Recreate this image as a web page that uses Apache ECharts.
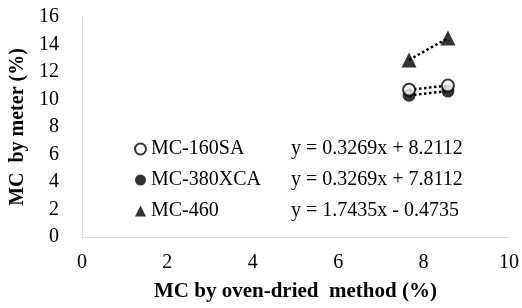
<!DOCTYPE html>
<html>
<head>
<meta charset="utf-8">
<script src="https://cdn.jsdelivr.net/npm/echarts@6/dist/echarts.min.js"></script>
<style>
  html, body { margin: 0; padding: 0; background: #fff; }
  #chart { width: 522px; height: 308px; }
</style>
</head>
<body>
<div id="chart"></div>
<script>
  // oven-dried MC (x) for the two samples
  const ovenDried = [7.66, 8.57];
  // meter readings (y)
  const mc160sa = [10.71, 11.01];
  const mc380xca = [10.31, 10.61];
  const mc460 = [12.88, 14.47];
  const names = ['MC-160SA', 'MC-380XCA', 'MC-460'];
  const equations = ['y = 0.3269x + 8.2112', 'y = 0.3269x + 7.8112', 'y = 1.7435x - 0.4735'];

  const pairs = (ys) => ovenDried.map((x, i) => [x, ys[i]]);
  const font = 'Liberation Serif';

  const myChart = echarts.init(document.getElementById('chart'));

  const option = {
    animation: false,
    textStyle: { fontFamily: font },
    grid: { left: 78, right: 9, top: 17, bottom: 71 },
    legend: {
      data: names,
      orient: 'vertical',
      left: 129,
      top: 134,
      itemWidth: 11,
      itemHeight: 11,
      itemGap: 11,
      selectedMode: false,
      formatter(name) {
        // 名字和公式两列对齐
        return '{n|' + name + '}{e|' + equations[names.indexOf(name)] + '}';
      },
      textStyle: {
        fontFamily: font,
        fontSize: 20,
        color: '#000',
        rich: {
          n: { width: 140, fontFamily: font, fontSize: 20, color: '#000' },
          e: { fontFamily: font, fontSize: 20, color: '#000' },
        },
      },
    },
    xAxis: {
      type: 'value',
      min: 0,
      max: 10,
      interval: 2,
      name: 'MC by oven-dried  method (%)',
      nameLocation: 'middle',
      nameGap: 44,
      nameTextStyle: { fontFamily: font, fontSize: 21, fontWeight: 'bold', color: '#000' },
      axisLine: { lineStyle: { color: '#d9d9d9', width: 1 } },
      axisTick: { show: false },
      splitLine: { show: false },
      axisLabel: { fontFamily: font, fontSize: 20, color: '#000', margin: 16 },
    },
    yAxis: {
      type: 'value',
      min: 0,
      max: 16,
      interval: 2,
      name: 'MC  by meter (%)',
      nameLocation: 'middle',
      nameGap: 48,
      nameTextStyle: { fontFamily: font, fontSize: 20, fontWeight: 'bold', color: '#000' },
      axisLine: { show: true, lineStyle: { color: '#d9d9d9', width: 1 } },
      axisTick: { show: false },
      splitLine: { show: false },
      axisLabel: { fontFamily: font, fontSize: 20, color: '#000', margin: 23 },
    },
    series: [
      // dotted trend lines
      {
        name: 'fit160',
        type: 'line',
        data: pairs(mc160sa),
        showSymbol: false,
        lineStyle: { color: '#000', width: 2.5, type: 'dotted' },
        z: 1,
      },
      {
        name: 'fit380',
        type: 'line',
        data: pairs(mc380xca),
        showSymbol: false,
        lineStyle: { color: '#000', width: 2.5, type: 'dotted' },
        z: 1,
      },
      {
        name: 'fit460',
        type: 'line',
        data: pairs(mc460),
        showSymbol: false,
        lineStyle: { color: '#000', width: 2.5, type: 'dotted' },
        z: 1,
      },
      // markers
      {
        name: 'MC-160SA',
        type: 'scatter',
        data: pairs(mc160sa),
        symbol: 'circle',
        symbolSize: 12,
        itemStyle: { color: '#fff', borderColor: '#000', borderWidth: 2 },
        z: 3,
      },
      {
        name: 'MC-380XCA',
        type: 'scatter',
        data: pairs(mc380xca),
        symbol: 'circle',
        symbolSize: 13,
        itemStyle: { color: '#000' },
        z: 2,
      },
      {
        name: 'MC-460',
        type: 'scatter',
        data: pairs(mc460),
        symbol: 'triangle',
        symbolSize: 15,
        itemStyle: { color: '#000' },
        z: 2,
      },
    ],
  };

  myChart.setOption(option);
</script>
</body>
</html>
